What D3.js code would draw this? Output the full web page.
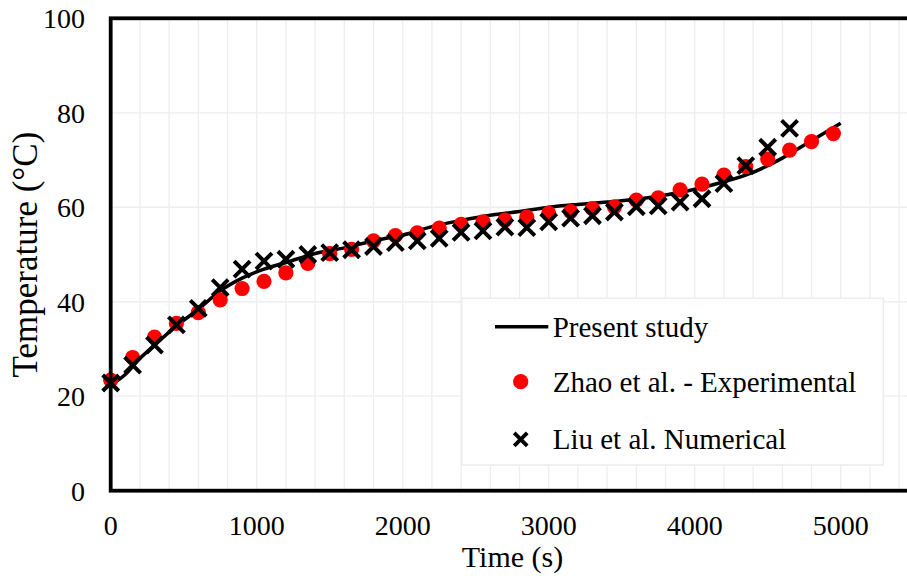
<!DOCTYPE html>
<html>
<head>
  <meta charset="utf-8">
  <title>Temperature vs time</title>
  <script src="https://d3js.org/d3.v7.min.js"></script>
  <style>
    body { margin: 0; background: #fff; }
    text { font-family: "Liberation Serif", "Times New Roman", serif; fill: #000; }
  </style>
</head>
<body>
  <svg id="chart"></svg>

  <script>
    // Present study (continuous curve)
    var studyTime = [0, 100, 200, 300, 450, 600, 750, 900, 1050, 1200, 1400, 1600, 1800, 2000, 2200, 2400,
                     2600, 2800, 3000, 3200, 3400, 3600, 3800, 4000, 4200, 4400, 4600, 4800, 5000];
    var studyTemp = [22.4, 24.6, 28.0, 30.8, 34.9, 38.4, 42.3, 45.0, 46.9, 48.3, 50.2, 51.4, 52.9, 54.1, 55.9, 57.2,
                     58.3, 59.1, 60.0, 60.6, 61.1, 61.7, 62.6, 63.8, 65.4, 67.4, 70.4, 74.1, 77.8];

    // Zhao et al. - Experimental, every 150 s
    var zhaoTime = d3.range(0, 5000, 150);
    var zhaoTemp = [23.4, 28.2, 32.5, 35.4, 37.7, 40.4, 42.8, 44.3, 46.1, 48.1, 50.2, 51.1, 52.9, 54.0, 54.6, 55.6,
                    56.4, 56.9, 57.3, 57.9, 58.7, 59.1, 59.7, 60.1, 61.5, 62.0, 63.7, 64.9, 66.8, 68.6, 70.2, 72.1,
                    73.9, 75.6];

    // Liu et al. Numerical, every 150 s
    var liuTime = d3.range(0, 4700, 150);
    var liuTemp = [22.8, 26.6, 30.8, 35.1, 38.6, 43.0, 46.9, 48.6, 49.0, 50.0, 50.4, 51.0, 51.7, 52.5, 52.9, 53.4,
                   54.7, 55.0, 55.8, 55.7, 56.9, 57.7, 58.2, 59.0, 60.1, 60.3, 61.1, 61.8, 65.0, 68.8, 72.7, 76.7];

    var xTicks = [0, 1000, 2000, 3000, 4000, 5000];
    var yTicks = [0, 20, 40, 60, 80, 100];
    var xGrid = d3.range(0, 5600, 200);

    var legendItems = ['Present study', 'Zhao et al. - Experimental', 'Liu et al. Numerical'];

    var svgWidth = 907, svgHeight = 576;
    var svg = d3.select('#chart')
      .attr('width', svgWidth)
      .attr('height', svgHeight);

    var x = d3.scaleLinear().domain([0, 5500]).range([110.7, 913.7]);
    var y = d3.scaleLinear().domain([0, 100]).range([490.7, 18.3]);

    // gridlines
    svg.append('g').selectAll('line.v')
      .data(xGrid)
      .enter().append('line')
      .attr('x1', function(d) { return x(d); })
      .attr('x2', function(d) { return x(d); })
      .attr('y1', y(0)).attr('y2', y(100))
      .attr('stroke', '#eeeeee').attr('stroke-width', 1.3);

    svg.append('g').selectAll('line.h')
      .data(yTicks)
      .enter().append('line')
      .attr('x1', x(0)).attr('x2', x(5500))
      .attr('y1', function(d) { return y(d); })
      .attr('y2', function(d) { return y(d); })
      .attr('stroke', '#eeeeee').attr('stroke-width', 1.3);

    // legend box
    var lg = svg.append('g');
    lg.append('rect')
      .attr('x', 461.7).attr('y', 298.3)
      .attr('width', 421.6).attr('height', 166.7)
      .attr('fill', '#fff')
      .attr('stroke', '#ececec').attr('stroke-width', 1.5);

    var legY = [326.7, 381.7, 439.3];
    lg.append('line')
      .attr('x1', 495).attr('x2', 548.3)
      .attr('y1', legY[0]).attr('y2', legY[0])
      .attr('stroke', '#000').attr('stroke-width', 3.5);
    lg.append('circle')
      .attr('cx', 520.7).attr('cy', legY[1]).attr('r', 7.6)
      .attr('fill', '#ff0000');
    lg.append('path')
      .attr('transform', 'translate(520.7,' + legY[2] + ')')
      .attr('d', 'M-6.5,-6.5L6.5,6.5M-6.5,6.5L6.5,-6.5')
      .attr('stroke', '#000').attr('stroke-width', 3.8);
    lg.selectAll('text')
      .data(legendItems)
      .enter().append('text')
      .attr('x', 552.7)
      .attr('y', function(d, i) { return legY[i]; })
      .attr('dy', '0.35em')
      .attr('font-size', 29)
      .text(function(d) { return d; });

    // present study line
    var line = d3.line()
      .x(function(d) { return x(d[0]); })
      .y(function(d) { return y(d[1]); })
      .curve(d3.curveMonotoneX);

    svg.append('path')
      .datum(d3.zip(studyTime, studyTemp))
      .attr('d', line)
      .attr('fill', 'none')
      .attr('stroke', '#000')
      .attr('stroke-width', 3.5);

    // Zhao points
    svg.append('g').selectAll('circle')
      .data(d3.zip(zhaoTime, zhaoTemp))
      .enter().append('circle')
      .attr('cx', function(d) { return x(d[0]); })
      .attr('cy', function(d) { return y(d[1]); })
      .attr('r', 7.6)
      .attr('fill', '#ff0000');

    // Liu crosses
    svg.append('g').selectAll('path')
      .data(d3.zip(liuTime, liuTemp))
      .enter().append('path')
      .attr('transform', function(d) { return 'translate(' + x(d[0]) + ',' + y(d[1]) + ')'; })
      .attr('d', 'M-8,-8L8,8M-8,8L8,-8')
      .attr('stroke', '#000')
      .attr('stroke-width', 4);

    // plot border (left, top, bottom)
    svg.append('rect')
      .attr('x', x(0)).attr('y', y(100))
      .attr('width', x(5500) - x(0)).attr('height', y(0) - y(100))
      .attr('fill', 'none')
      .attr('stroke', '#000').attr('stroke-width', 3.8);

    // tick labels
    svg.append('g').selectAll('text')
      .data(xTicks)
      .enter().append('text')
      .attr('x', function(d) { return x(d); })
      .attr('y', 535)
      .attr('text-anchor', 'middle')
      .attr('font-size', 28)
      .text(function(d) { return d; });

    svg.append('g').selectAll('text')
      .data(yTicks)
      .enter().append('text')
      .attr('x', 85)
      .attr('y', function(d) { return y(d); })
      .attr('dy', '0.35em')
      .attr('text-anchor', 'end')
      .attr('font-size', 28)
      .text(function(d) { return d; });

    // axis titles
    svg.append('text')
      .attr('x', 512.5).attr('y', 567)
      .attr('text-anchor', 'middle')
      .attr('font-size', 30)
      .text('Time (s)');

    svg.append('text')
      .attr('transform', 'translate(36.7,' + (y(0) + y(100)) / 2 + ') rotate(-90)')
      .attr('text-anchor', 'middle')
      .attr('font-size', 35)
      .text('Temperature (°C)');
  </script>
</body>
</html>
